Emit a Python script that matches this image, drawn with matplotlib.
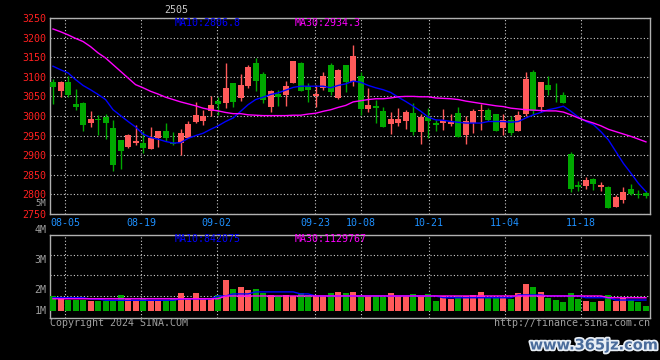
import numpy as np
import matplotlib
matplotlib.use("Agg")
import matplotlib.pyplot as plt
import matplotlib.patheffects as pe

plt.rcParams['font.family'] = ['DejaVu Sans Mono']

# daily k-line, 2024-08-01 .. 2024-11-29 (80 trading days)
opens = [3088, 3063, 3086, 3031, 3032, 2981, 2993, 2998, 2969, 2939,
         2921, 2930, 2931, 2917, 2944, 2963, 2931, 2931, 2944, 2985,
         2988, 3013, 3039, 3034, 3083, 3047, 3076, 3136, 3108, 3024,
         3057, 3054, 3085, 3136, 3076, 3050, 3071, 3129, 3047, 3129,
         3088, 3103, 3018, 3026, 3013, 2980, 2982, 2988, 3008, 2959,
         2998, 2982, 2982, 2980, 3008, 2952, 2982, 3013, 3016, 3006,
         2970, 2990, 2963, 3006, 3113, 3024, 3080, 3062, 3054, 2903,
         2824, 2821, 2839, 2819, 2818, 2767, 2785, 2813, 2800, 2803]
highs = [3094, 3090, 3101, 3070, 3036, 3014, 3003, 3006, 2990, 2940,
         2953, 2977, 2963, 2971, 2963, 2981, 2960, 2968, 2988, 3035,
         3016, 3050, 3048, 3134, 3083, 3106, 3131, 3147, 3113, 3067,
         3067, 3090, 3141, 3139, 3084, 3080, 3113, 3134, 3121, 3131,
         3180, 3113, 3072, 3042, 3024, 3011, 3021, 3016, 3034, 3006,
         3021, 2990, 3018, 3006, 3024, 3000, 3018, 3031, 3021, 3006,
         3006, 2999, 3013, 3111, 3118, 3088, 3101, 3085, 3062, 2908,
         2834, 2844, 2841, 2831, 2821, 2798, 2818, 2826, 2810, 2808]
lows = [3030, 3048, 3048, 3016, 2963, 2972, 2952, 2942, 2860, 2865,
        2919, 2926, 2906, 2916, 2922, 2936, 2925, 2900, 2944, 2983,
        2977, 2999, 3003, 3020, 3024, 3039, 3071, 3063, 3033, 3009,
        3026, 3026, 3083, 3065, 3035, 3024, 3067, 3054, 3043, 3060,
        3076, 3003, 3011, 2982, 2972, 2954, 2975, 2968, 2952, 2929,
        2944, 2962, 2965, 2975, 2946, 2929, 2957, 2965, 2988, 2962,
        2952, 2952, 2962, 2999, 3003, 3011, 3054, 3036, 3034, 2806,
        2808, 2813, 2811, 2808, 2765, 2767, 2777, 2798, 2790, 2792]
closes = [3073, 3086, 3054, 3024, 2977, 2993, 2990, 2982, 2876, 2911,
          2952, 2937, 2918, 2944, 2963, 2944, 2928, 2957, 2980, 3003,
          3000, 3029, 3031, 3072, 3036, 3080, 3124, 3090, 3040, 3064,
          3049, 3077, 3141, 3065, 3066, 3057, 3103, 3060, 3118, 3088,
          3152, 3018, 3029, 3021, 2972, 2993, 2993, 3011, 2960, 2998,
          2988, 2977, 2990, 2985, 2947, 2988, 3013, 3016, 2990, 2962,
          2990, 2957, 3003, 3095, 3013, 3088, 3067, 3060, 3034, 2813,
          2819, 2836, 2826, 2824, 2766, 2793, 2806, 2801, 2798, 2795]
ma10 = [3127, 3118, 3110, 3093, 3078, 3067, 3055, 3042, 3016, 3001,
        2986, 2972, 2954, 2945, 2941, 2935, 2931, 2932, 2943, 2950,
        2956, 2966, 2975, 2986, 2995, 3012, 3029, 3042, 3048, 3055,
        3059, 3066, 3073, 3076, 3076, 3076, 3076, 3072, 3078, 3082,
        3089, 3086, 3078, 3072, 3067, 3060, 3048, 3037, 3025, 3012,
        2997, 2990, 2989, 2986, 2984, 2982, 2982, 2982, 2986, 2986,
        2986, 2984, 2986, 2995, 3003, 3009, 3016, 3020, 3025, 3012,
        2997, 2986, 2978, 2960, 2939, 2909, 2879, 2854, 2828, 2807]
ma30 = [3222, 3215, 3207, 3198, 3190, 3177, 3161, 3148, 3131, 3114,
        3097, 3080, 3072, 3063, 3056, 3048, 3042, 3036, 3031, 3026,
        3020, 3016, 3013, 3009, 3006, 3006, 3003, 3002, 3001, 3001,
        3001, 3001, 3002, 3002, 3005, 3007, 3012, 3016, 3022, 3027,
        3036, 3039, 3042, 3044, 3044, 3046, 3049, 3050, 3050, 3049,
        3049, 3046, 3045, 3044, 3042, 3038, 3035, 3032, 3029, 3026,
        3024, 3020, 3018, 3016, 3015, 3014, 3013, 3013, 3010, 3003,
        2995, 2988, 2982, 2975, 2966, 2960, 2954, 2948, 2941, 2934]
volume = [1.58, 1.47, 1.42, 1.42, 1.42, 1.39, 1.38, 1.39, 1.39, 1.62,
          1.47, 1.42, 1.45, 1.42, 1.39, 1.42, 1.45, 1.70, 1.50, 1.70,
          1.47, 1.47, 1.62, 2.21, 1.86, 1.94, 1.82, 1.86, 1.70, 1.62,
          1.58, 1.62, 1.58, 1.70, 1.62, 1.58, 1.58, 1.70, 1.74, 1.70,
          1.74, 1.58, 1.58, 1.58, 1.55, 1.70, 1.58, 1.58, 1.66, 1.58,
          1.66, 1.39, 1.58, 1.47, 1.58, 1.58, 1.62, 1.74, 1.51, 1.51,
          1.55, 1.47, 1.70, 2.05, 1.94, 1.75, 1.51, 1.42, 1.36, 1.70,
          1.47, 1.38, 1.36, 1.39, 1.62, 1.38, 1.51, 1.42, 1.36, 1.19]
vol_ma10 = [1.51, 1.51, 1.51, 1.51, 1.51, 1.46, 1.46, 1.41, 1.41, 1.41,
            1.41, 1.41, 1.41, 1.41, 1.41, 1.41, 1.41, 1.46, 1.46, 1.46,
            1.46, 1.46, 1.58, 1.58, 1.66, 1.66, 1.66, 1.74, 1.74, 1.74,
            1.74, 1.74, 1.74, 1.66, 1.66, 1.58, 1.58, 1.58, 1.58, 1.58,
            1.58, 1.58, 1.58, 1.58, 1.58, 1.58, 1.58, 1.58, 1.58, 1.58,
            1.58, 1.58, 1.51, 1.51, 1.51, 1.51, 1.51, 1.51, 1.51, 1.51,
            1.51, 1.51, 1.62, 1.62, 1.62, 1.62, 1.58, 1.58, 1.58, 1.58,
            1.58, 1.51, 1.51, 1.51, 1.51, 1.42, 1.42, 1.42, 1.42, 1.42]
vol_ma30 = [1.47] * 23 + [1.58] * 51 + [1.51] * 6

date_labels = ['08-05', '08-19', '09-02', '09-23', '10-08', '10-21', '11-04', '11-18']
date_idx = [2, 12, 22, 35, 41, 50, 60, 70]
price_ticks = list(range(2750, 3251, 50))

RED = '#ff5a5a'
GREEN = '#00a800'
GRID = '#cfcfcf'
FRAME = '#b0b0b0'
W, H = 660, 360

x = np.arange(len(closes))
up = np.array(closes) >= np.array(opens)
cols = np.where(up, RED, GREEN)
# sina draws the date grid on a slightly different scale than the candles
grid_x = [i + 0.0097 * (i - 41) for i in date_idx]

fig = plt.figure(figsize=(6.6, 3.6), dpi=100, facecolor='black')
ax = fig.add_axes([50 / W, 1 - 214 / H, 600 / W, 196 / H], facecolor='black')
axv = fig.add_axes([50 / W, 1 - 318 / H, 600 / W, 83.5 / H], facecolor='black')

# candles
ax.vlines(x, lows, highs, colors=cols, linewidth=1, zorder=2)
body_lo = np.minimum(opens, closes)
body_h = np.maximum(np.abs(np.array(closes) - np.array(opens)), 2)
ax.bar(x, body_h, bottom=body_lo, width=0.8, color=cols, linewidth=0, zorder=3)
ax.plot(x, ma10, color='#0000ff', linewidth=1, zorder=4)
ax.plot(x, ma30, color='#ff00ff', linewidth=1, zorder=4)

ax.set_xlim(-0.4, 79.54)
ax.set_ylim(2750, 3250)
ax.set_yticks(price_ticks)
ax.set_xticks(grid_x)
ax.set_xticklabels(date_labels)
ax.tick_params(axis='y', length=0, pad=3, labelcolor='#ff2020', labelsize=7.2)
ax.tick_params(axis='x', length=0, pad=3, labelcolor='#1e90ff', labelsize=7.2)
ax.grid(True, color=GRID, linestyle=(0, (1, 2)), linewidth=0.8, zorder=1)

# volume
axv.bar(x, np.array(volume) - 1.0, bottom=1.0, width=0.8, color=cols, linewidth=0, zorder=3)
axv.plot(x, vol_ma10, color='#0000ff', linewidth=1, zorder=4)
axv.plot(x, vol_ma30, color='#ff00ff', linewidth=1, zorder=4)
axv.set_xlim(-0.4, 79.54)
axv.set_ylim(0.712, 4.0)
axv.set_yticks([1.58, 2.41, 3.20])
axv.set_xticks(grid_x)
axv.tick_params(length=0, labelleft=False, labelbottom=False)
axv.grid(True, color=GRID, linestyle=(0, (1, 2)), linewidth=0.8, zorder=1)

for a in (ax, axv):
    for s in a.spines.values():
        s.set_color(FRAME)
        s.set_linewidth(1)


def put(px, py, s, color, ha='left', size=7.2, **kw):
    fig.text(px / W, 1 - py / H, s, color=color, ha=ha, va='center', fontsize=size, **kw)


put(176, 10, '2505', '#c8c8c8', ha='center')
put(175, 23.5, 'MA10:2806.8', '#0000ff')
put(295, 23.5, 'MA30:2934.3', '#ff00ff')
put(175, 238.5, 'MA10:842075', '#0000ff')
put(295, 238.5, 'MA30:1129767', '#ff00ff')
put(46.5, 203.5, '5M', '#a0a0a0', ha='right', size=6.4)
for lab, py in [('4M', 230), ('3M', 260), ('2M', 290), ('1M', 311)]:
    put(46.5, py, lab, '#a0a0a0', ha='right')
put(50, 323.5, 'Copyright 2024 SINA.COM', '#a0a0a0')
put(650, 323.5, 'http://finance.sina.com.cn', '#a0a0a0', ha='right')
fig.text(594 / W, 1 - 345 / H, 'www.365jz.com', color='#4a6c9c', ha='center', va='center',
         fontsize=10.5, fontweight='bold', family='DejaVu Sans',
         path_effects=[pe.withStroke(linewidth=2.5, foreground='#e8eef5')])

fig.savefig('out.png', dpi=100, facecolor='black')
